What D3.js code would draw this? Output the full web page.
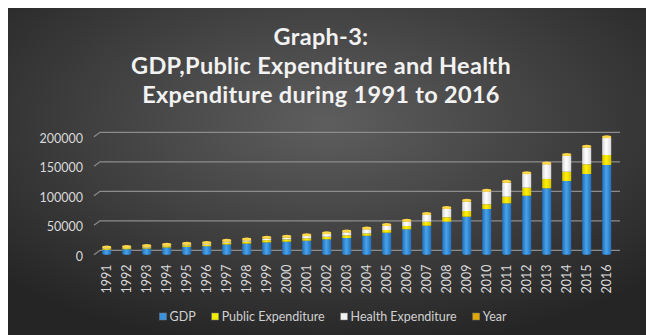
<!DOCTYPE html>
<html><head><meta charset="utf-8">
<script src="https://cdn.jsdelivr.net/npm/d3@7"></script>
<style>body{margin:0;background:#fff}svg{display:block}</style>
</head><body><svg id="c" width="646" height="335"></svg>
<script>
const years = [1991,1992,1993,1994,1995,1996,1997,1998,1999,2000,2001,2002,2003,2004,2005,2006,2007,2008,2009,2010,2011,2012,2013,2014,2015,2016];
const gdp = [6000,6900,8000,9800,11000,12000,15000,16500,18500,19700,21400,23700,25900,29800,34900,40700,46800,53600,62000,75100,84700,97600,110200,122500,134400,149700];
const publicExp = [1700,1800,2000,2300,2500,2700,3000,3300,3800,4000,4000,4400,4600,4000,4600,5600,6800,7500,9700,8000,11200,13600,15800,15800,16400,16950];
const healthExp = [900,1000,1200,1400,1600,1800,2000,2300,2700,3000,4200,4900,5300,7000,7100,7600,11700,14400,16100,21700,24000,23500,25100,27000,28500,28800];
const yearSeries = years.slice();
const yTicks = [0,50000,100000,150000,200000];
const seriesNames = ["GDP","Public Expenditure","Health Expenditure","Year"];
const seriesKeys = ["gdp","pub","health","year"];

const W = 646, H = 335;
const svg = d3.select("#c");
const defs = svg.append("defs");

const bg = defs.append("radialGradient").attr("id","bg").attr("cx","50%").attr("cy","35%").attr("r","70%");
bg.append("stop").attr("offset","0%").attr("stop-color","#5e5e5e");
bg.append("stop").attr("offset","100%").attr("stop-color","#252525");

const colors = {gdp:["#1f6fb8","#4aa3ea","#1f6fb8"], pub:["#d9c400","#fff200","#d9c400"], health:["#d8d8d8","#ffffff","#d8d8d8"], year:["#c99500","#ffd21a","#c99500"]};
seriesKeys.forEach(k=>{
  const g = defs.append("linearGradient").attr("id","g_"+k).attr("x1","0").attr("x2","1").attr("y1","0").attr("y2","0");
  g.append("stop").attr("offset","0%").attr("stop-color",colors[k][0]);
  g.append("stop").attr("offset","45%").attr("stop-color",colors[k][1]);
  g.append("stop").attr("offset","100%").attr("stop-color",colors[k][2]);
});

svg.append("rect").attr("x",8).attr("y",8).attr("width",W-8).attr("height",H-8).attr("fill","url(#bg)");

// title
const title = ["Graph-3:","GDP,Public Expenditure and Health","Expenditure during 1991 to 2016"];
svg.append("g").selectAll("text").data(title).join("text")
  .attr("x",321).attr("y",(d,i)=>45+i*29)
  .attr("text-anchor","middle").attr("fill","#f2f2f2")
  .style("font-family","Lato, 'Open Sans', sans-serif").style("font-weight","bold").style("font-size","23.5px")
  .style("letter-spacing","0.3px")
  .text(d=>d);

const y = d3.scaleLinear().domain([0,200000]).range([250.3,132.3]);
const x = d3.scaleBand().domain(years).range([96.7,616.7]).paddingInner(0.55).paddingOuter(0.275);
const depth = 3, slant = 6;

// gridlines
const grid = svg.append("g");
yTicks.forEach(t=>{
  const yy = y(t);
  grid.append("path").attr("d",`M${100-slant},${yy+depth+1.5}L100,${yy}L620,${yy}`)
    .attr("fill","none").attr("stroke","#8c8c8c").attr("stroke-width",1.2);
});

// y labels
svg.append("g").selectAll("text").data(yTicks).join("text")
  .attr("x",83).attr("y",d=>y(d)+6).attr("dy","0.35em").attr("text-anchor","end")
  .attr("fill","#d9d9d9").style("font-family","Lato, sans-serif").style("font-size","12.5px")
  .text(d=>d);

// x labels
svg.append("g").selectAll("text").data(years).join("text")
  .attr("transform",d=>`translate(${x(d)+x.bandwidth()/2},264.5) rotate(-90)`)
  .attr("text-anchor","end").attr("dy","0.35em")
  .attr("fill","#d9d9d9").style("font-family","Lato, sans-serif").style("font-size","12.5px")
  .text(d=>d);

// stacked bars
const stackData = years.map((yr,i)=>({key:yr, gdp:gdp[i], pub:publicExp[i], health:healthExp[i], year:yearSeries[i]}));
const stacked = d3.stack().keys(seriesKeys)(stackData);
const bars = svg.append("g");
const bw = x.bandwidth();
bars.selectAll("ellipse.base").data(stackData).join("ellipse")
  .attr("cx",d=>x(d.key)+bw/2).attr("cy",y(0)+depth).attr("rx",bw/2).attr("ry",1.5)
  .attr("fill","url(#g_gdp)");
stacked.forEach(s=>{
  bars.append("g").selectAll("rect").data(s).join("rect")
    .attr("x",d=>x(d.data.key)).attr("width",bw)
    .attr("y",d=>y(d[1])+depth).attr("height",d=>Math.max(0,y(d[0])-y(d[1])))
    .attr("fill","url(#g_"+s.key+")");
});
const topLayer = stacked[stacked.length-1];
bars.append("g").selectAll("ellipse").data(topLayer).join("ellipse")
  .attr("cx",d=>x(d.data.key)+bw/2).attr("cy",d=>y(d[1])+depth).attr("rx",bw/2).attr("ry",1.5)
  .attr("fill","#ffd84a");

// legend
const leg = svg.append("g");
const legColors = {gdp:"#3a93e0", pub:"#f2ee00", health:"#f2f2f2", year:"#e0a800"};
const items = [];
seriesKeys.forEach((k,i)=>{
  const g = leg.append("g");
  g.append("rect").attr("x",0).attr("y",-4).attr("width",7).attr("height",7).attr("fill",legColors[k]).attr("stroke","#777").attr("stroke-width",0.5);
  const t = g.append("text").attr("x",10).attr("y",0).attr("dy","0.35em").attr("fill","#d0d0d0")
    .style("font-family","Lato, sans-serif").style("font-size","12.5px").text(seriesNames[i]);
  items.push({g, w:10+t.node().getComputedTextLength()});
});
const gap = 16;
const total = d3.sum(items,d=>d.w)+gap*(items.length-1);
let lcx = 333-total/2;
items.forEach(it=>{it.g.attr("transform",`translate(${lcx},317)`); lcx += it.w+gap;});
</script></body></html>
